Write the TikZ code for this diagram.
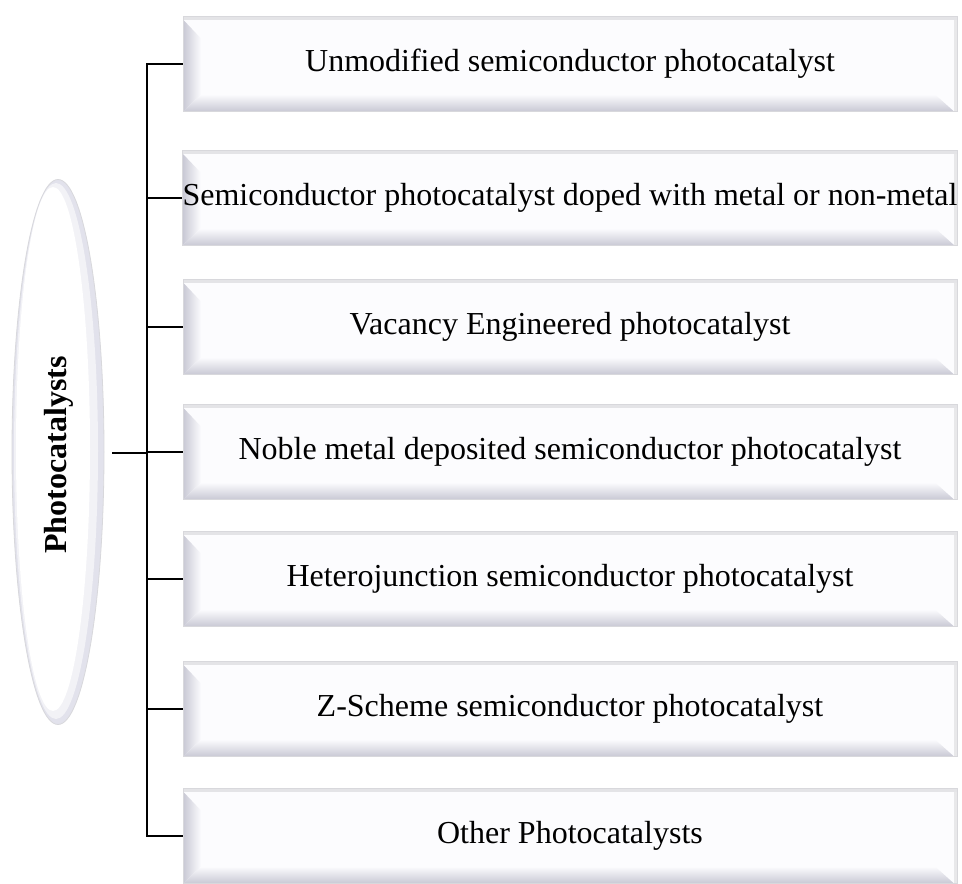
\documentclass[tikz,border=0pt]{standalone}
\usepackage{fontspec}
\setmainfont{Liberation Serif}
\usetikzlibrary{shapes.geometric}
\definecolor{face}{RGB}{252,252,254}
\definecolor{bev}{RGB}{200,200,212}
\definecolor{edgegray}{RGB}{216,216,220}
\definecolor{ellshade}{RGB}{226,226,236}
\tikzset{
  bevelbox/.style={draw=edgegray, line width=1pt, fill=face,
    minimum width=774pt, minimum height=95pt, inner sep=0pt,
    font=\fontsize{32}{38}\selectfont,
    path picture={
      \coordinate (pnw) at (path picture bounding box.north west);
      \coordinate (pne) at (path picture bounding box.north east);
      \coordinate (psw) at (path picture bounding box.south west);
      \coordinate (pse) at (path picture bounding box.south east);
      \fill[edgegray!70] (pnw) rectangle ([yshift=-3pt]pne);
      \fill[edgegray!60] ([yshift=-3pt]pne) rectangle ([xshift=-3pt]pse);
      \shade[left color=bev, right color=face]
        ([yshift=-3pt]pnw) -- ([xshift=18pt,yshift=-22pt]pnw) --
        ([xshift=18pt,yshift=17pt]psw) -- (psw) -- cycle;
      \shade[top color=face, bottom color=bev]
        (psw) -- ([xshift=18pt,yshift=17pt]psw) --
        ([xshift=-22pt,yshift=17pt]pse) -- ([xshift=-3pt]pse) -- cycle;
    }},
  rootell/.style={ellipse, draw=edgegray, line width=0.8pt, fill=ellshade,
    minimum width=92pt, minimum height=545pt, inner sep=0pt},
  conn/.style={line width=2.2pt, black},
  trunk/.style={line width=2.8pt, black}
}
\begin{document}
\begin{tikzpicture}[x=1pt,y=-1pt]
\useasboundingbox[fill=white] (0,0) rectangle (962,884);
% root
\node[rootell] (root) at (58,452) {};
\fill[white!55!ellshade] (56,451) ellipse [x radius=42pt, y radius=268pt];
\fill[white] (53,449) ellipse [x radius=37pt, y radius=262pt];
\node[rotate=90, font=\fontsize{32}{38}\selectfont\bfseries, inner sep=0pt] (roottxt) at (59,455) {Photocatalysts};
% boxes
\node[bevelbox] (b1) at (570,64) {Unmodified semiconductor photocatalyst};
\node[bevelbox] (b2) at (570,198) {Semiconductor photocatalyst doped with metal or non-metal};
\node[bevelbox] (b3) at (570,327) {Vacancy Engineered photocatalyst};
\node[bevelbox] (b4) at (570,452) {Noble metal deposited semiconductor photocatalyst};
\node[bevelbox] (b5) at (570,579) {Heterojunction semiconductor photocatalyst};
\node[bevelbox] (b6) at (570,709) {Z-Scheme semiconductor photocatalyst};
\node[bevelbox] (b7) at (570,836) {Other Photocatalysts};
% connectors
\coordinate (jn) at (147,453);
\draw[trunk] ([xshift=8pt]root.east |- jn) -- (jn);
\draw[trunk, line cap=rect] (jn |- b1.west) -- (jn |- b7.west);
\foreach \i in {1,...,7} {
  \draw[conn] (jn |- b\i.west) -- (b\i.west);
}
\end{tikzpicture}
\end{document}
